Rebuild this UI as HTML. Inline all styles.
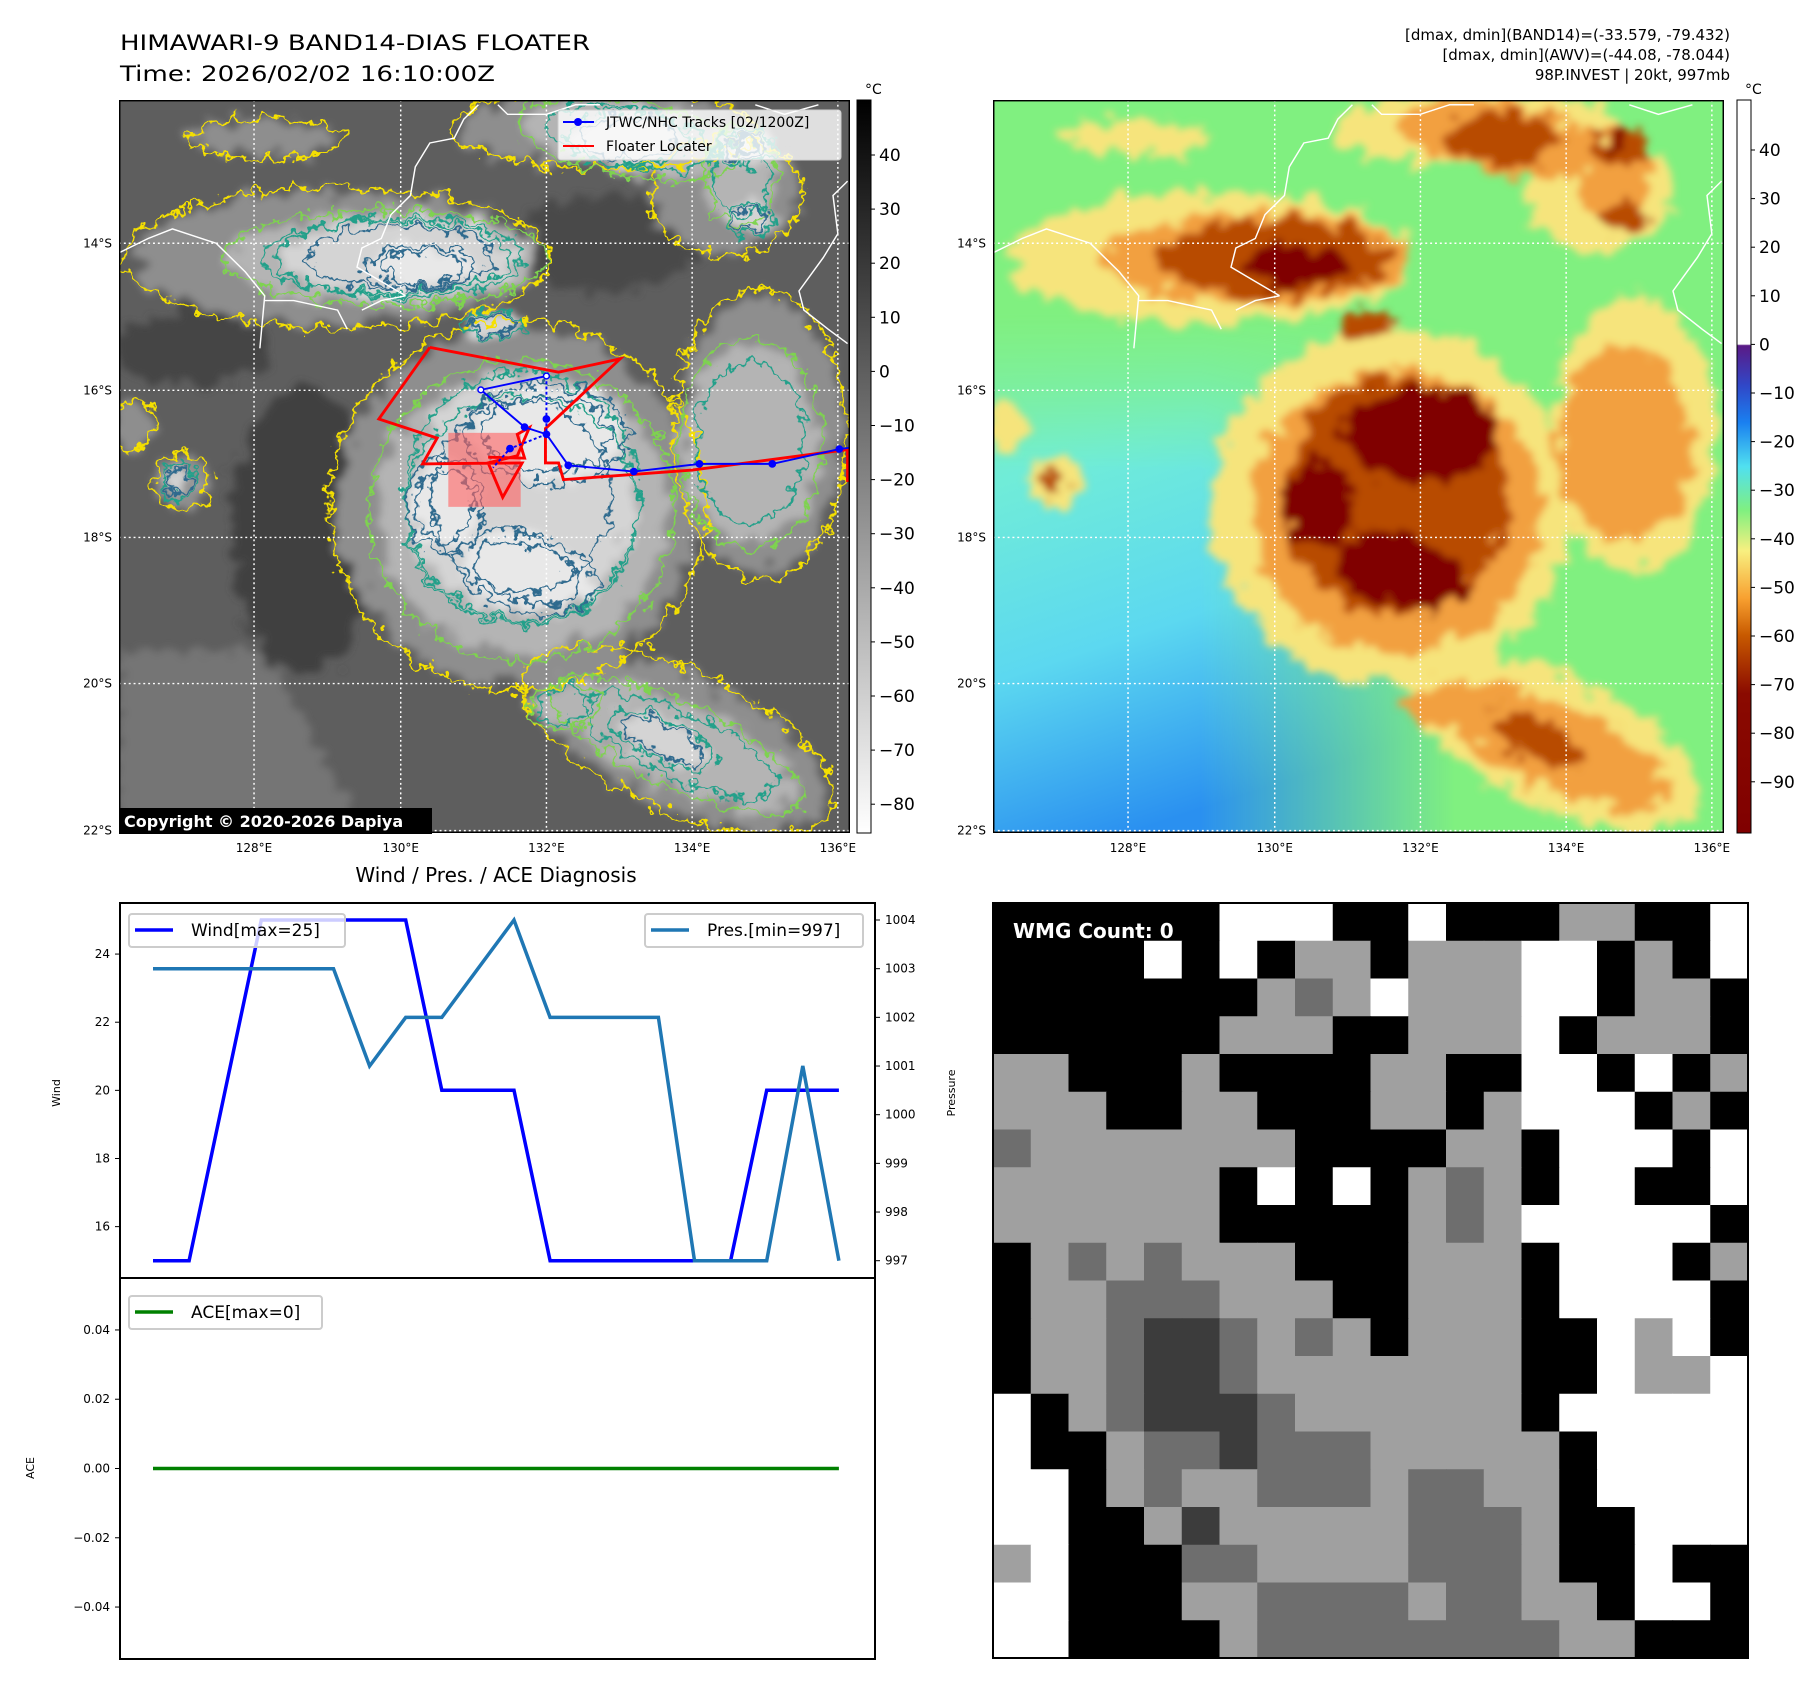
<!DOCTYPE html>
<html><head><meta charset="utf-8">
<style>
html,body{margin:0;padding:0;background:#fff;}
svg text{font-family:"DejaVu Sans","Liberation Sans",sans-serif;}
</style></head>
<body>
<svg id="root" xmlns="http://www.w3.org/2000/svg" width="1813" height="1690" viewBox="0 0 1813 1690">
<defs>
  <filter id="wig" x="-10%" y="-10%" width="120%" height="120%">
    <feTurbulence type="fractalNoise" baseFrequency="0.035" numOctaves="3" seed="7" result="n"/>
    <feDisplacementMap in="SourceGraphic" in2="n" scale="55" xChannelSelector="R" yChannelSelector="G"/>
  </filter>
  <filter id="wigblur" x="-10%" y="-10%" width="120%" height="120%">
    <feTurbulence type="fractalNoise" baseFrequency="0.025" numOctaves="3" seed="4" result="n"/>
    <feDisplacementMap in="SourceGraphic" in2="n" scale="80" xChannelSelector="R" yChannelSelector="G" result="d"/>
    <feGaussianBlur in="d" stdDeviation="8"/>
  </filter>
  <linearGradient id="cbL" x1="0" y1="0" x2="0" y2="1">
    <stop offset="0" stop-color="#000"/><stop offset="1" stop-color="#fff"/>
  </linearGradient>
  <linearGradient id="cbR" x1="0" y1="0" x2="0" y2="1">
    <stop offset="0" stop-color="#fff"/><stop offset="0.333" stop-color="#fff"/>
    <stop offset="0.335" stop-color="#5a1a86"/><stop offset="0.39" stop-color="#3048c8"/>
    <stop offset="0.44" stop-color="#1a80f0"/><stop offset="0.50" stop-color="#50e0f0"/>
    <stop offset="0.56" stop-color="#80f080"/><stop offset="0.615" stop-color="#f8f080"/>
    <stop offset="0.68" stop-color="#f8a030"/><stop offset="0.73" stop-color="#c85a00"/>
    <stop offset="0.81" stop-color="#8a0a00"/><stop offset="1" stop-color="#800000"/>
  </linearGradient>
  <linearGradient id="blueReg" x1="0" y1="0" x2="0.3" y2="1">
    <stop offset="0" stop-color="#80f0b0"/><stop offset="0.3" stop-color="#70ecd8"/>
    <stop offset="0.65" stop-color="#5cd8f0"/><stop offset="1" stop-color="#2a90f0"/>
  </linearGradient>
  <linearGradient id="fadeH" x1="0" y1="0" x2="1" y2="0">
    <stop offset="0" stop-color="#fff"/><stop offset="0.45" stop-color="#fff"/><stop offset="1" stop-color="#000"/>
  </linearGradient>
  <linearGradient id="fadeV" x1="0" y1="0" x2="0" y2="1">
    <stop offset="0" stop-color="#000" stop-opacity="1"/><stop offset="0.3" stop-color="#000" stop-opacity="0"/>
  </linearGradient>
  <mask id="blueMask" maskUnits="userSpaceOnUse" x="0" y="0" width="1505" height="1535">
    <rect x="0" y="450" width="950" height="1085" fill="url(#fadeH)"/>
    <rect x="0" y="450" width="950" height="1085" fill="url(#fadeV)"/>
  </mask>
</defs>

<text x="120" y="50" font-size="21" textLength="470" lengthAdjust="spacingAndGlyphs">HIMAWARI-9 BAND14-DIAS FLOATER</text>
<text x="120" y="81" font-size="21" textLength="375" lengthAdjust="spacingAndGlyphs">Time: 2026/02/02 16:10:00Z</text>
<text x="1730" y="40" font-size="15" text-anchor="end">[dmax, dmin](BAND14)=(-33.579, -79.432)</text>
<text x="1730" y="60" font-size="15" text-anchor="end">[dmax, dmin](AWV)=(-44.08, -78.044)</text>
<text x="1730" y="80" font-size="15" text-anchor="end">98P.INVEST | 20kt, 997mb</text>

<g id="leftMap"></g>
<g id="rightMap"></g>
<g id="chart"></g>
<g id="wmg"></g>
</svg>

<script>
// ---------------- Chart data ----------------
const timeIndex = [0,1,2,3,4,5,6,7,8,9,10,11,12,13,14,15,16,17,18,19];
const windVals = [15,15,20,25,25,25,25,25,20,20,20,15,15,15,15,15,15,20,20,20];
const presVals = [1003,1003,1003,1003,1003,1003,1001,1002,1002,1003,1004,1002,1002,1002,1002,997,997,997,1001,997];
const aceVals = [0,0,0,0,0,0,0,0,0,0,0,0,0,0,0,0,0,0,0,0];
const windTicks = [16,18,20,22,24];
const presTicks = [997,998,999,1000,1001,1002,1003,1004];
const aceTicks = [0.04,0.02,0.00,-0.02,-0.04];
const cbLeftTicks = [40,30,20,10,0,-10,-20,-30,-40,-50,-60,-70,-80];
const cbRightTicks = [40,30,20,10,0,-10,-20,-30,-40,-50,-60,-70,-80,-90];
const lonLabels = ["128°E","130°E","132°E","134°E","136°E"];
const latLabels = ["14°S","16°S","18°S","20°S","22°S"];

const NS = "http://www.w3.org/2000/svg";
function mk(tag, attrs, parent){ const e=document.createElementNS(NS,tag); for(const k in attrs) e.setAttribute(k,attrs[k]); if(parent) parent.appendChild(e); return e; }
function txt(parent, x, y, s, size, anchor, extra){ const t=mk('text',Object.assign({x:x,y:y,'font-size':size,'text-anchor':anchor||'start'},extra||{}),parent); t.textContent=s; return t; }

// ---------------- Maps ----------------
const shapes = [
 [450,330,420,140,0,1],[1000,60,300,80,0,1],[1320,700,170,290,0,1],[820,850,370,370,0,1],
 [1150,1340,330,140,25,1],[130,800,55,55,0,1],[1250,200,150,120,0,1],[30,680,40,50,0,1],[300,80,150,40,0,1],
 [550,330,320,95,0,2],[1050,80,220,75,10,2],[1300,720,140,210,0,2],[830,860,300,300,0,2],
 [1150,1350,270,85,25,2],[1280,160,70,100,0,2],[920,1270,70,45,0,2],
 [580,330,240,80,0,3],[1050,80,120,55,0,3],[1290,100,60,35,0,3],[1300,250,45,32,0,3],[770,470,60,25,0,3],
 [830,830,230,250,0,3],[1120,1340,110,40,25,3],[125,800,28,38,0,3],
 [620,350,110,45,0,4],[880,700,160,100,0,4],[670,850,75,95,0,4],[840,990,140,75,15,4],[1290,95,22,18,0,4]
];
const rightPal = ['#80f080','#f6e47c','#f2a040','#b84c00','#800000'];
const leftPal  = ['#5e5e5e','#8e8e8e','#b4b4b4','#d4d4d4','#e8e8e8'];
const contourCol = ['', '#f5e000', '#7ed34f', '#22a08a', '#2f6a8e'];

function buildMap(group, ox, isLeft){
  const s = mk('svg',{x:ox,y:100,width:731,height:733,viewBox:'0 0 1505 1535',preserveAspectRatio:'none'},group);
  const pal = isLeft?leftPal:rightPal;
  mk('rect',{x:0,y:0,width:1505,height:1535,fill:pal[0]},s);
  if(!isLeft){
    mk('rect',{x:0,y:450,width:950,height:1085,fill:'url(#blueReg)',mask:'url(#blueMask)'},s);
  }
  const fillG = mk('g',{filter:'url(#wigblur)'},s);
  if(isLeft){
    mk('path',{d:'M0,1150 L300,1150 L500,1535 L0,1535 Z',fill:'#747474'},fillG);
    mk('ellipse',{cx:380,cy:900,rx:150,ry:300,fill:'#404040'},fillG);
    mk('ellipse',{cx:150,cy:520,rx:160,ry:80,fill:'#444'},fillG);
    mk('ellipse',{cx:1000,cy:300,rx:200,ry:100,fill:'#484848'},fillG);
  }
  for(const sh of shapes){
    mk('ellipse',{cx:sh[0],cy:sh[1],rx:sh[2],ry:sh[3],transform:`rotate(${sh[4]} ${sh[0]} ${sh[1]})`,fill:pal[sh[5]]},fillG);
  }
  if(isLeft){
    const cg = mk('g',{filter:'url(#wig)',fill:'none','stroke-width':5},s);
    for(const sh of shapes){
      mk('ellipse',{cx:sh[0],cy:sh[1],rx:sh[2]*1.05,ry:sh[3]*1.05,transform:`rotate(${sh[4]} ${sh[0]} ${sh[1]})`,stroke:contourCol[sh[5]]},cg);
      if(sh[5]>=2) mk('ellipse',{cx:sh[0],cy:sh[1],rx:sh[2]*0.8,ry:sh[3]*0.8,transform:`rotate(${sh[4]} ${sh[0]} ${sh[1]})`,stroke:contourCol[Math.min(4,sh[5]+1)]},cg);
    }
  }
  const coast = mk('g',{fill:'none',stroke:'#fff','stroke-width':3},s);
  
  
  mk('path',{d:'M0,320 L60,290 L110,270 L200,300 L260,360 L300,410 L290,520 M300,420 L360,420 L450,440 L470,480 M500,440 L540,420 L590,410 M590,410 L540,380 L490,350 L500,310 L540,290 L560,240 L600,200 L610,140 L640,90 L690,80 L710,40 L740,10'},coast);
  mk('path',{d:'M780,10 L800,30 L880,30 L940,10 L990,10 M1310,10 L1370,30 L1440,10 M1500,170 L1470,200 L1480,280 L1450,330 L1400,400 L1410,440 L1460,480 L1500,510'},coast);
  const grid = mk('g',{stroke:'#fff','stroke-width':3,'stroke-dasharray':'4 6'},s);
  
  
  for(const gx of [278,580,880,1180,1480]) mk('line',{x1:gx,y1:0,x2:gx,y2:1535},grid);
  for(const gy of [300,608,916,1222,1530]) mk('line',{x1:0,y1:gy,x2:1505,y2:gy},grid);
  if(isLeft){
    const box = mk('rect',{x:678,y:697,width:149,height:155,fill:'#ff6060','fill-opacity':0.6},s);
    
    
    const red = mk('path',{d:'M640,518 L905,570 L1032,542 L878,688 L878,760 L905,760 L915,795 L1180,775 L1500,732 L1500,800 M640,518 L535,668 L655,708 L625,762 L830,760 L790,832 L760,760 L820,745 L845,686 L820,700 L835,750 L760,748',fill:'none',stroke:'#ff0000','stroke-width':6},s);
    
    
    const bl = mk('g',{},s);
    
    
    mk('path',{d:'M1505,728 L1483,731 L1345,762 L1195,762 L1060,778 L925,765 L880,700 L835,685 L745,607 L880,578',fill:'none',stroke:'#0000ff','stroke-width':4},bl);
    mk('path',{d:'M880,578 L880,700 M880,700 L805,730 L770,770',fill:'none',stroke:'#0000ff','stroke-width':4,'stroke-dasharray':'6 5'},bl);
    for(const p of [[1483,731],[1345,762],[1195,762],[1060,778],[925,765],[880,700],[835,685],[805,730],[880,668]]) mk('circle',{cx:p[0],cy:p[1],r:8,fill:'#0000ff'},bl);
    for(const p of [[745,607],[880,578]]) mk('circle',{cx:p[0],cy:p[1],r:6,fill:'#fff',stroke:'#0000ff','stroke-width':3},bl);
  }
  mk('rect',{x:0,y:0,width:1505,height:1535,fill:'none',stroke:'#000','stroke-width':6},s);
}
buildMap(document.getElementById('leftMap'),119,true);
buildMap(document.getElementById('rightMap'),993,false);

function mapAxes(ox, g){
  const lonX=[278,580,880,1180,1480].map(v=>ox+v*731/1505);
  const latY=[300,608,916,1222,1530].map(v=>100+v*733/1535);
  lonLabels.forEach((s,i)=>{ const t=txt(g,lonX[i],852,s,12,'middle');
      });
  latLabels.forEach((s,i)=>{ const t=txt(g,ox-7,latY[i]+4,s,12,'end');
      });
}
mapAxes(119,document.getElementById('leftMap'));
mapAxes(993,document.getElementById('rightMap'));

(function(){
  const g=document.getElementById('leftMap');
  const lg=mk('g',{},g);
  
  
  mk('rect',{x:558,y:110,width:283,height:50,rx:3,fill:'#fff','fill-opacity':0.8,stroke:'#ccc'},lg);
  mk('line',{x1:563,y1:122,x2:594,y2:122,stroke:'#0000ff','stroke-width':2},lg);
  mk('circle',{cx:578,cy:122,r:4,fill:'#0000ff'},lg);
  txt(lg,606,127,'JTWC/NHC Tracks [02/1200Z]',14);
  mk('line',{x1:563,y1:146,x2:594,y2:146,stroke:'#ff0000','stroke-width':2},lg);
  txt(lg,606,151,'Floater Locater',14);
  const cp=mk('g',{},g);
  
  
  mk('rect',{x:119,y:808,width:313,height:26,fill:'#000'},cp);
  txt(cp,124,827,'Copyright © 2020-2026 Dapiya',16,'start',{fill:'#fff','font-weight':'bold'});
})();

function colorbar(g,x,w,grad,ticks,y0,step){
  const cb=mk('g',{},g);
  
  
  mk('rect',{x:x,y:100,width:w,height:733,fill:`url(#${grad})`,stroke:'#000','stroke-width':1},cb);
  ticks.forEach((v,i)=>{ const y=y0+(ticks[0]-v)/10*step;
    mk('line',{x1:x+w,y1:y,x2:x+w+4,y2:y,stroke:'#000'},cb);
    txt(cb,x+w+8,y+6,String(v).replace('-','−'),17); });
  txt(cb,x+8,94,'°C',14);
}
colorbar(document.getElementById('leftMap'),857,14,'cbL',cbLeftTicks,155,54.1);
colorbar(document.getElementById('rightMap'),1737,14,'cbR',cbRightTicks,150,48.6);

// ---------------- Line chart ----------------
const chart=document.getElementById('chart');
const X0=120,X1=875,T=903,MID=1278,B=1659;
const xPos=i=>153+i*36.1;
const yW=v=>920+(25-v)*34.07;
const yP=v=>1260.7-(v-997)*48.67;
const yA=v=>1468.5-v*3463.6;
txt(chart,496,882,'Wind / Pres. / ACE Diagnosis',20,'middle');
mk('rect',{x:X0,y:T,width:X1-X0,height:B-T,fill:'#fff',stroke:'#000','stroke-width':2},chart);
mk('line',{x1:X0,y1:MID,x2:X1,y2:MID,stroke:'#000','stroke-width':2},chart);
windTicks.forEach(v=>{ mk('line',{x1:X0-5,y1:yW(v),x2:X0,y2:yW(v),stroke:'#000'},chart); txt(chart,X0-10,yW(v)+4,String(v),12,'end'); });
presTicks.forEach(v=>{ mk('line',{x1:X1,y1:yP(v),x2:X1+5,y2:yP(v),stroke:'#000'},chart); txt(chart,X1+10,yP(v)+4,String(v),12); });
aceTicks.forEach(v=>{ mk('line',{x1:X0-5,y1:yA(v),x2:X0,y2:yA(v),stroke:'#000'},chart); txt(chart,X0-10,yA(v)+4,v.toFixed(2).replace('-','−'),12,'end'); });
txt(chart,60,1093,'Wind',11,'middle',{transform:'rotate(-90 60 1093)'});
txt(chart,955,1093,'Pressure',11,'middle',{transform:'rotate(-90 955 1093)'});
txt(chart,34,1468,'ACE',11,'middle',{transform:'rotate(-90 34 1468)'});
function series(vals,yf,color,name){
  const d=vals.map((v,i)=>(i?'L':'M')+xPos(timeIndex[i]).toFixed(1)+','+yf(v).toFixed(1)).join(' ');
  const p=mk('path',{d:d,fill:'none',stroke:color,'stroke-width':3.5},chart);
  
  
}
series(windVals,yW,'#0000ff','wind-line');
series(presVals,yP,'#1f77b4','pressure-line');
series(aceVals,yA,'#008000','ace-line');
function legend(x,y,w,color,label,name){
  const g=mk('g',{},chart);
  
  
  mk('rect',{x:x,y:y,width:w,height:33,rx:3,fill:'#fff','fill-opacity':0.8,stroke:'#ccc','stroke-width':2},g);
  mk('line',{x1:x+6,y1:y+16,x2:x+44,y2:y+16,stroke:color,'stroke-width':3.5},g);
  txt(g,x+62,y+22,label,17);
}
legend(129,914,216,'#0000ff','Wind[max=25]','wind-legend');
legend(645,914,218,'#1f77b4','Pres.[min=997]','pressure-legend');
legend(129,1296,193,'#008000','ACE[max=0]','ace-legend');

// ---------------- WMG panel ----------------
const wmgRows=[
"00000044400400011004","00004040110111440104","00000001214111440110","00000011100111401110",
"11000100001100440401","11100110001101444010","21111111000011044404","11111104040121044004",
"11111100000121444440","01212111000111044401","01122211100111044440","01123321210111004140",
"01123321111111004114","40123332111111044444","40012232221111104444","44012112221221104444",
"44001311111222100444","14000221111222100400","44000112222122110440","44000012222222211000"];
const wmgCol=['#000000','#a0a0a0','#6e6e6e','#3c3c3c','#ffffff'];
(function(){
  const g=document.getElementById('wmg');
  const x0=993,y0=903,S=755/20;
  wmgRows.forEach((row,r)=>{ for(let c=0;c<20;c++){
    mk('rect',{x:(x0+c*S).toFixed(2),y:(y0+r*S).toFixed(2),width:(S+0.6).toFixed(2),height:(S+0.6).toFixed(2),fill:wmgCol[+row[c]]},g);
  }});
  mk('rect',{x:x0,y:y0,width:755,height:755,fill:'none',stroke:'#000','stroke-width':2},g);
  const t=txt(g,1013,938,'WMG Count: 0',20,'start',{fill:'#fff','font-weight':'bold'});
  
  
})();
</script>
</body></html>
